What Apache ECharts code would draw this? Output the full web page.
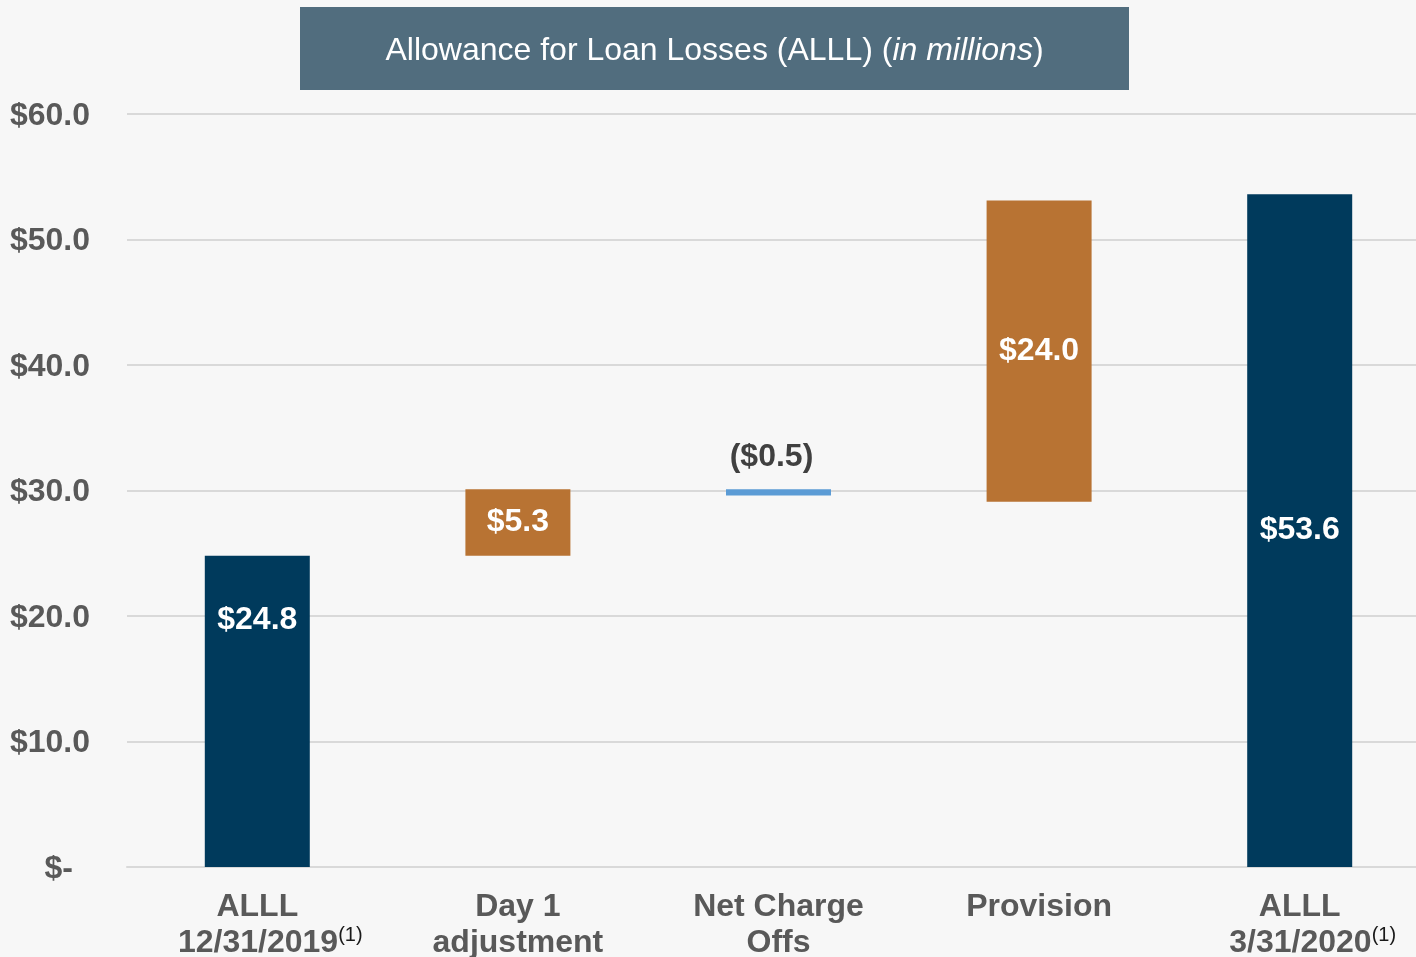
<!DOCTYPE html>
<html>
<head>
<meta charset="utf-8">
<script src="https://cdn.jsdelivr.net/npm/echarts@6/dist/echarts.min.js"></script>
<style>
  html, body { margin: 0; padding: 0; background: #f7f7f7; }
  #chart { width: 1416px; height: 957px; }
</style>
</head>
<body>
<div id="chart"></div>
<script>
// waterfall data (in millions)
var categories = ['ALLL|12/31/2019', 'Day 1|adjustment', 'Net Charge|Offs', 'Provision', 'ALLL|3/31/2020'];
var footnoted = [true, false, false, false, true];
var changes = [24.8, 5.3, -0.5, 24.0, 53.6];
var bases = [0, 24.8, 29.6, 29.1, 0];
var heights = [24.8, 5.3, 0.5, 24.0, 53.6];
var barColors = ['#003a5c', '#b87333', '#5b9bd5', '#b87333', '#003a5c'];

var myChart = echarts.init(document.getElementById('chart'));

function money(v) {
    if (v < 0) return '($' + Math.abs(v).toFixed(1) + ')';
    return '$' + v.toFixed(1);
}

var valueData = heights.map(function (h, i) {
    var d = { value: h, itemStyle: { color: barColors[i] } };
    if (changes[i] < 0) {
        d.label = { position: 'top', color: '#404040', distance: 16, offset: [-7, 0] };
    }
    if (i === 0) {
        d.label = { position: 'insideTop', distance: 48 };
    }
    return d;
});

myChart.setOption({
    backgroundColor: '#f7f7f7',
    animation: false,
    graphic: [
        {
            type: 'rect',
            left: 300, top: 7,
            shape: { width: 829, height: 83 },
            style: { fill: '#516d7e' }
        },
        {
            type: 'text',
            x: 714.5, y: 51,
            style: {
                text: '{n|Allowance for Loan Losses (ALLL) (}{i|in millions}{n|)}',
                align: 'center',
                verticalAlign: 'middle',
                fill: '#ffffff',
                rich: {
                    n: { fontFamily: 'Liberation Sans', fontSize: 32, fill: '#ffffff', color: '#ffffff' },
                    i: { fontFamily: 'Liberation Sans', fontSize: 32, fill: '#ffffff', color: '#ffffff', fontStyle: 'italic' }
                }
            }
        }
    ],
    grid: { left: 127, right: -14, top: 114, bottom: 90, outerBoundsMode: 'none', containLabel: false },
    xAxis: {
        type: 'category',
        data: categories,
        axisTick: { show: false },
        axisLine: { lineStyle: { color: '#d9d9d9', width: 2 } },
        axisLabel: {
            margin: 22,
            interval: 0,
            formatter: function (v, idx) {
                var parts = v.split('|');
                var lines = parts.map(function (p, k) {
                    var isLast = k === parts.length - 1;
                    if (isLast && footnoted[idx]) return '{b|' + p + '}{sup|(1)}';
                    return '{a|' + p + '}';
                });
                return lines.join('\n');
            },
            rich: {
                a: { fontFamily: 'Liberation Sans', fontWeight: 'bold', fontSize: 32, color: '#595959', lineHeight: 36 },
                b: { fontFamily: 'Liberation Sans', fontWeight: 'bold', fontSize: 32, color: '#595959', lineHeight: 36, padding: [0, 0, 0, 26] },
                sup: { fontFamily: 'Liberation Sans', fontSize: 20, color: '#1a1a1a', verticalAlign: 'top', padding: [0, 0, 16, 0], lineHeight: 36 }
            }
        }
    },
    yAxis: {
        type: 'value',
        min: 0, max: 60, interval: 10,
        axisLine: { show: false },
        axisTick: { show: false },
        splitLine: { lineStyle: { color: '#d9d9d9', width: 2 } },
        axisLabel: {
            margin: 37,
            formatter: function (v) { return v === 0 ? '{z|$-}' : '{t|$' + v.toFixed(1) + '}'; },
            rich: {
                t: { fontFamily: 'Liberation Sans', fontWeight: 'bold', fontSize: 32, color: '#595959', padding: [4, 0, 0, 0] },
                z: { fontFamily: 'Liberation Sans', fontWeight: 'bold', fontSize: 32, color: '#595959', padding: [4, 17, 0, 0] }
            }
        }
    },
    series: [
        {
            type: 'bar',
            stack: 'wf',
            data: bases,
            barWidth: 105,
            itemStyle: { color: 'transparent' },
            emphasis: { disabled: true },
            silent: true
        },
        {
            type: 'bar',
            stack: 'wf',
            data: valueData,
            barWidth: 105,
            label: {
                show: true,
                position: 'inside',
                fontFamily: 'Liberation Sans',
                fontWeight: 'bold',
                fontSize: 32,
                color: '#ffffff',
                formatter: function (p) { return money(changes[p.dataIndex]); }
            }
        }
    ]
});
</script>
</body>
</html>
